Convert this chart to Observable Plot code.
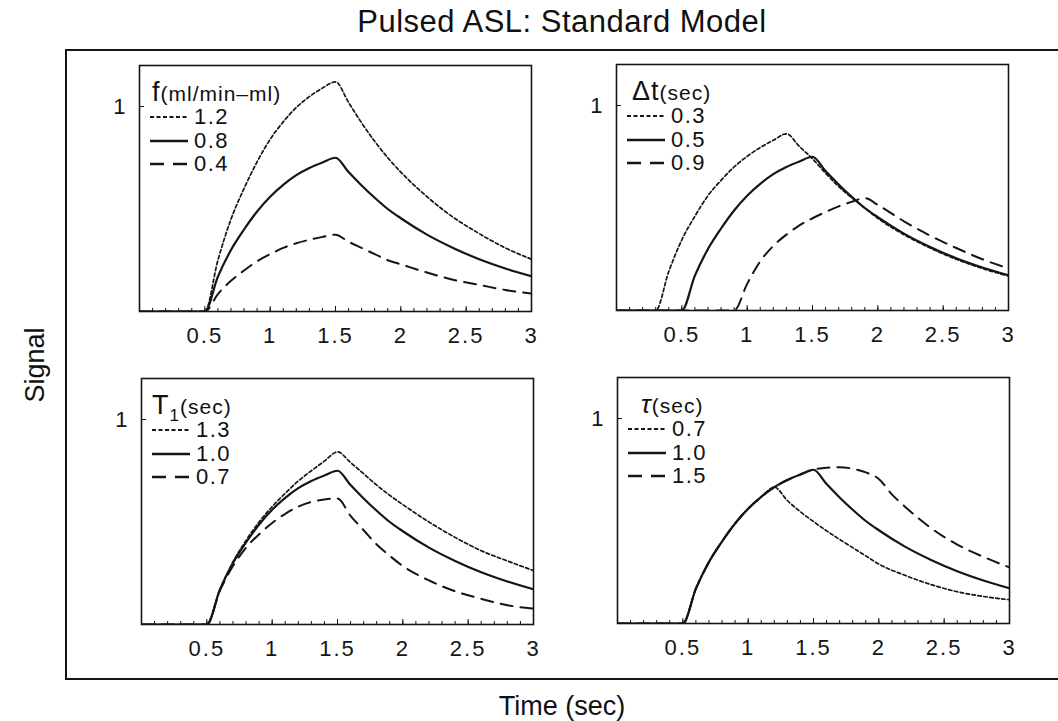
<!DOCTYPE html>
<html>
<head>
<meta charset="utf-8">
<script src="https://cdn.jsdelivr.net/npm/d3@7"></script>
<script src="https://cdn.jsdelivr.net/npm/@observablehq/plot@0.6"></script>
<style>
  body { margin: 0; background: #fff; }
  #root { position: relative; width: 1058px; height: 721px; overflow: hidden; background: #fff;
          font-family: "Liberation Sans", Arial, Helvetica, sans-serif; color: #111; }
  .abs { position: absolute; white-space: nowrap; }
  #root svg text { letter-spacing: 2px; }
  .legend-row { position: absolute; height: 22px; display: flex; align-items: center; font-size: 22px; letter-spacing: 1.5px; }
</style>
</head>
<body>
<div id="root"></div>
<script>
// ---------- data ----------
const xTicks = [0.5, 1, 1.5, 2, 2.5, 3];
const yTicks = [1];

// standard time grid (s)
const timeStd = [0, 0.5, 0.6, 0.7, 0.8, 0.9, 1.0, 1.1, 1.2, 1.3, 1.4, 1.5, 1.6, 1.7, 1.8, 1.9, 2.0, 2.2, 2.4, 2.6, 2.8, 3.0];
// standard model curve (solid in every panel)
const standard = [0, 0, 0.17, 0.30, 0.40, 0.488, 0.56, 0.618, 0.665, 0.70, 0.727, 0.75, 0.68, 0.615, 0.555, 0.50, 0.455, 0.375, 0.31, 0.255, 0.21, 0.172];

// panel f (ml/min-ml)
const flow12 = [0, 0, 0.25, 0.45, 0.60, 0.73, 0.84, 0.925, 0.995, 1.048, 1.09, 1.12, 1.02, 0.92, 0.83, 0.75, 0.68, 0.56, 0.46, 0.38, 0.31, 0.255];
const flow04 = [0, 0, 0.085, 0.15, 0.20, 0.245, 0.28, 0.31, 0.333, 0.35, 0.364, 0.375, 0.34, 0.31, 0.28, 0.25, 0.23, 0.19, 0.155, 0.13, 0.105, 0.088];

// panel Δt (sec)
const timeDt03 = [0, 0.3, 0.4, 0.5, 0.6, 0.7, 0.8, 0.9, 1.0, 1.1, 1.2, 1.3, 1.4, 1.5, 1.6, 1.7, 1.8, 1.9, 2.0, 2.2, 2.4, 2.6, 2.8, 3.0];
const dt03 = [0, 0, 0.19, 0.345, 0.46, 0.56, 0.635, 0.70, 0.752, 0.795, 0.83, 0.862, 0.80, 0.74, 0.67, 0.605, 0.55, 0.50, 0.45, 0.37, 0.305, 0.25, 0.205, 0.168];
const timeDt09 = [0, 0.9, 1.0, 1.1, 1.2, 1.3, 1.4, 1.5, 1.6, 1.7, 1.8, 1.9, 2.0, 2.2, 2.4, 2.6, 2.8, 3.0];
const dt09 = [0, 0, 0.13, 0.24, 0.315, 0.37, 0.415, 0.45, 0.48, 0.508, 0.53, 0.548, 0.515, 0.435, 0.365, 0.305, 0.25, 0.205];

// panel T1 (sec)
const t1_13 = [0, 0, 0.17, 0.305, 0.41, 0.50, 0.575, 0.64, 0.70, 0.75, 0.797, 0.842, 0.79, 0.735, 0.68, 0.63, 0.585, 0.50, 0.425, 0.36, 0.31, 0.263];
const t1_07 = [0, 0, 0.165, 0.285, 0.375, 0.44, 0.495, 0.54, 0.575, 0.598, 0.61, 0.615, 0.53, 0.46, 0.39, 0.335, 0.285, 0.215, 0.162, 0.125, 0.094, 0.077];

// panel τ (sec)
const tau07 = [0, 0, 0.17, 0.30, 0.40, 0.488, 0.56, 0.618, 0.665, 0.60, 0.545, 0.497, 0.452, 0.41, 0.37, 0.33, 0.29, 0.235, 0.19, 0.155, 0.132, 0.116];
const timeTau15 = [0, 0.5, 0.6, 0.7, 0.8, 0.9, 1.0, 1.1, 1.2, 1.3, 1.4, 1.5, 1.6, 1.7, 1.8, 1.9, 2.0, 2.1, 2.2, 2.4, 2.6, 2.8, 3.0];
const tau15 = [0, 0, 0.17, 0.30, 0.40, 0.488, 0.56, 0.618, 0.665, 0.70, 0.727, 0.75, 0.76, 0.762, 0.755, 0.737, 0.705, 0.63, 0.57, 0.465, 0.385, 0.325, 0.274];

// legend labels
const labelsFlow = ["1.2", "0.8", "0.4"];
const labelsDt = ["0.3", "0.5", "0.9"];
const labelsT1 = ["1.3", "1.0", "0.7"];
const labelsTau = ["0.7", "1.0", "1.5"];

// ---------- styles / layout ----------
const INK = "#151515";
const FONT = '"Liberation Sans", Arial, Helvetica, sans-serif';
const lineStyles = {
  dot:   {strokeWidth: 1.7, strokeDasharray: "3.5,2.5"},
  solid: {strokeWidth: 2.2, strokeDasharray: null},
  dash:  {strokeWidth: 2.0, strokeDasharray: "12,8"}
};
const legendDash = {dot: "4,2.5", solid: null, dash: "14,9"};
const styleOrder = ["dot", "solid", "dash"];

const FW = 392, FH = 246;          // frame size
const ML = 40, MR = 10, MT = 10, MB = 44;

const panels = [
  {left: 139, top: 65, headerLeft: 13,
   header: '<span style="font-size:27px">f</span><span style="font-size:21px">(ml/min–ml)</span>',
   labels: labelsFlow,
   series: [[timeStd, flow12], [timeStd, standard], [timeStd, flow04]]},
  {left: 616, top: 64, headerLeft: 16,
   header: '<span style="font-size:27px">Δt</span><span style="font-size:21px">(sec)</span>',
   labels: labelsDt,
   series: [[timeDt03, dt03], [timeStd, standard], [timeDt09, dt09]]},
  {left: 141, top: 378, headerLeft: 11,
   header: '<span style="font-size:27px">T</span><span style="font-size:17px;position:relative;top:7px">1</span><span style="font-size:21px">(sec)</span>',
   labels: labelsT1,
   series: [[timeStd, t1_13], [timeStd, standard], [timeStd, t1_07]]},
  {left: 617, top: 377, headerLeft: 24,
   header: '<span style="font-size:26px;font-style:italic">τ</span><span style="font-size:21px">(sec)</span>',
   labels: labelsTau,
   series: [[timeStd, tau07], [timeStd, standard], [timeTau15, tau15]]}
];

const root = document.getElementById("root");

function addDiv(html, css) {
  const d = document.createElement("div");
  d.className = "abs";
  d.innerHTML = html;
  Object.assign(d.style, css);
  root.appendChild(d);
  return d;
}

// outer frame (open on the right)
addDiv("", {left: "65px", top: "49px", width: "1000px", height: "627px",
  borderTop: "2px solid " + INK, borderLeft: "2px solid " + INK, borderBottom: "2px solid " + INK});

// title and axis titles
addDiv("Pulsed ASL: Standard Model", {left: "262px", top: "4px", width: "600px", textAlign: "center",
  fontSize: "31px", letterSpacing: "0.5px"});
addDiv("Signal", {left: "35px", top: "365px", fontSize: "27px", transform: "translate(-50%,-50%) rotate(-90deg)"});
addDiv("Time (sec)", {left: "562px", top: "706px", fontSize: "27px", transform: "translate(-50%,-50%)"});

const minorTicks = d3.range(1, 30).map(i => i / 10);

panels.forEach(p => {
  const marks = [
    Plot.axisX(minorTicks, {tickSize: -3, fill: "none", stroke: INK, label: null}),
    Plot.axisX(xTicks, {tickSize: -5, fill: "none", stroke: INK, label: null}),
    Plot.axisX(xTicks, {tickSize: 0, tickPadding: 16, label: null, fill: INK, tickFormat: d => String(d)}),
    Plot.axisY(yTicks, {tickSize: -5, fill: "none", stroke: INK, label: null}),
    Plot.axisY(yTicks, {tickSize: 0, tickPadding: 12, label: null, fill: INK, tickFormat: d => String(d)})
  ];
  p.series.forEach(([times, vals], i) => {
    const data = times.map((t, k) => ({t, v: vals[k]}));
    const st = lineStyles[styleOrder[i]];
    marks.push(Plot.line(data, {x: "t", y: "v", stroke: INK, strokeWidth: st.strokeWidth,
      strokeDasharray: st.strokeDasharray, curve: "monotone-x", clip: true}));
  });
  marks.push(Plot.frame({stroke: INK, strokeWidth: 1.6}));

  const chart = Plot.plot({
    width: FW + ML + MR, height: FH + MT + MB,
    marginLeft: ML, marginRight: MR, marginTop: MT, marginBottom: MB,
    x: {domain: [0, 3]},
    y: {domain: [0, 1.2]},
    style: {fontFamily: FONT, fontSize: "22px", color: INK, background: "transparent", overflow: "visible"},
    marks
  });
  chart.style.position = "absolute";
  chart.style.left = (p.left - ML) + "px";
  chart.style.top = (p.top - MT) + "px";
  root.appendChild(chart);

  // legend
  addDiv(p.header, {left: (p.left + p.headerLeft) + "px", top: (p.top + 13) + "px", lineHeight: "28px", letterSpacing: "1px"});
  p.labels.forEach((lab, i) => {
    const key = styleOrder[i];
    const row = document.createElement("div");
    row.className = "legend-row";
    row.style.left = (p.left + 11) + "px";
    row.style.top = (p.top + 41 + i * 23.5) + "px";
    const dash = legendDash[key] ? `stroke-dasharray="${legendDash[key]}"` : "";
    const sw = key === "dot" ? 2.2 : 2.6;
    row.innerHTML = `<svg width="38" height="10" style="margin-right:6px"><line x1="0" y1="5" x2="38" y2="5" stroke="${INK}" stroke-width="${sw}" ${dash}/></svg><span>${lab}</span>`;
    root.appendChild(row);
  });
});
</script>
</body>
</html>
